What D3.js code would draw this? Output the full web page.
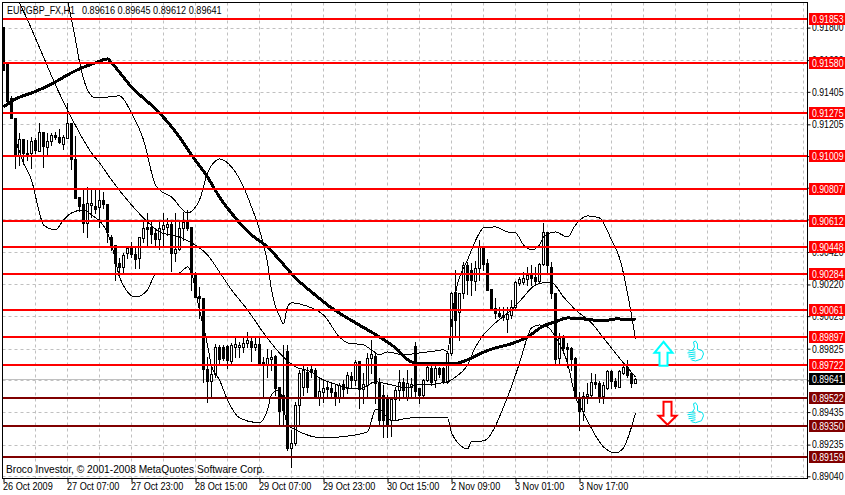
<!DOCTYPE html>
<html>
<head>
<meta charset="utf-8">
<script src="https://cdn.jsdelivr.net/npm/d3@7"></script>
<style>
  body { margin: 0; background: #fff; overflow: hidden; }
  text { font-family: "Liberation Sans", Arial, sans-serif; font-size: 10.5px; fill: #000; }
</style>
</head>
<body>
<script>
const wSvg = 845;
const hSvg = 495;

// prices are in 1/100000 units, one entry per hourly bar
const opens = [91804,91583,91367,91244,91017,91115,91029,91029,91109,91041,91158,91066,91103,91140,91127,91084,91121,91214,90992,90758,90715,90599,90709,90703,90697,90740,90715,90512,90463,90353,90328,90414,90445,90408,90383,90506,90574,90574,90537,90500,90562,90574,90592,90414,90439,90568,90611,90574,90279,90150,90137,89701,89627,89670,89836,89836,89842,89750,89836,89836,89836,89861,89873,89836,89854,89744,89731,89762,89781,89590,89541,89811,89215,89246,89479,89590,89682,89701,89695,89528,89559,89590,89584,89559,89528,89608,89584,89658,89633,89750,89578,89602,89768,89781,89621,89541,89528,89387,89516,89572,89621,89528,89590,89842,89584,89541,89633,89707,89633,89707,89707,89621,89799,90174,90051,90168,90340,90310,90242,90322,90451,90353,90193,90076,90045,90033,90008,90033,90082,90230,90236,90254,90279,90266,90242,90346,90543,90328,90168,89768,89897,89836,89830,89768,89522,89442,89535,89541,89621,89615,89535,89584,89688,89627,89590,89676,89713,89676,89616];
const highs = [91804,91583,91380,91244,91152,91115,91109,91127,91121,91214,91158,91152,91152,91158,91177,91140,91337,91214,91134,90758,90802,90820,90814,90802,90802,90789,90715,90525,90463,90383,90414,90451,90482,90445,90512,90617,90660,90605,90568,90605,90660,90629,90611,90660,90617,90666,90679,90574,90297,90205,90137,89774,89725,89854,89848,89848,89848,89861,89891,89867,89891,89928,89891,89891,89897,89774,89824,89818,89787,89590,89848,89848,89326,89498,89695,89725,89713,89719,89707,89645,89633,89627,89621,89602,89615,89633,89682,89682,89756,89750,89676,89799,89879,89799,89645,89602,89541,89522,89590,89695,89645,89695,89645,89867,89584,89639,89719,89719,89719,89713,89713,89811,90174,90310,90168,90359,90359,90353,90365,90494,90451,90377,90193,90137,90082,90082,90082,90125,90242,90266,90297,90328,90340,90328,90353,90599,90543,90359,90168,89922,89910,89861,89836,89774,89559,89559,89615,89676,89670,89627,89621,89695,89695,89645,89695,89725,89756,89682,89645];
const lows = [91540,91349,91244,90937,90955,90961,90986,90937,91029,91041,90943,91017,91078,91115,91091,91054,91121,90931,90752,90672,90543,90512,90635,90660,90574,90691,90482,90433,90248,90297,90297,90383,90390,90322,90322,90482,90451,90476,90463,90439,90463,90525,90303,90365,90433,90494,90556,90187,90143,90014,89621,89498,89528,89651,89737,89756,89707,89737,89774,89774,89805,89836,89750,89818,89725,89528,89651,89695,89541,89356,89356,89203,89098,89233,89356,89541,89559,89651,89528,89479,89498,89522,89528,89479,89498,89528,89553,89584,89602,89461,89492,89528,89676,89492,89356,89282,89282,89289,89387,89510,89522,89510,89528,89528,89492,89528,89627,89602,89590,89651,89615,89615,89787,89910,89879,90137,90162,90156,90187,90248,90310,90187,90064,90014,90020,90002,89928,90014,90076,90217,90223,90217,90217,90223,90236,90340,90291,90137,89731,89737,89799,89713,89695,89522,89326,89387,89492,89528,89584,89498,89492,89578,89584,89584,89590,89670,89651,89590,89612];
const closes = [91540,91349,91244,91017,91115,91029,91023,91103,91048,91158,91072,91103,91140,91127,91097,91127,91214,90992,90752,90703,90599,90722,90722,90685,90740,90715,90543,90463,90353,90328,90402,90445,90408,90377,90512,90568,90562,90531,90500,90568,90586,90592,90414,90439,90568,90605,90568,90297,90143,90137,89701,89627,89670,89836,89762,89768,89756,89848,89854,89848,89861,89879,89836,89854,89737,89737,89768,89774,89584,89442,89449,89215,89246,89479,89676,89695,89590,89682,89528,89565,89584,89578,89559,89528,89602,89578,89664,89633,89744,89578,89608,89768,89793,89615,89387,89387,89350,89516,89572,89621,89572,89615,89608,89565,89541,89633,89713,89621,89707,89670,89627,89799,90168,90002,90168,90340,90248,90248,90322,90451,90346,90187,90070,90045,90027,90020,90039,90082,90236,90254,90260,90279,90260,90242,90346,90543,90340,90168,89762,89891,89830,89824,89762,89522,89442,89535,89547,89621,89608,89528,89602,89688,89627,89596,89688,89713,89664,89615,89641];

const upperBars = [16,18,19,21,23,26,29,32,35,38,39,42,46,49,51,53,54,57,60,62,64,66,67,68,69,70,71,72,74,77,80,84,86,90,92,94,96,100,104,108,110,111,112,113,116,119,120,123,126,128,130,132,134,135,138,141,143,146,149,152,154,157,158];
const upperValues = [91970,91724,91589,91417,91367,91373,91380,91275,91109,90832,90802,90758,90660,90740,90906,90980,90992,90943,90820,90697,90556,90353,90187,90082,90027,89977,90082,90107,90100,90076,90033,89897,89861,89848,89818,89787,89805,89787,89799,89811,89818,89805,89984,90168,90371,90537,90568,90574,90543,90537,90463,90433,90463,90512,90543,90512,90586,90642,90629,90494,90383,90033,89885];
const middleBars = [4,6,10,13,16,19,22,24,27,32,36,39,44,47,51,54,57,61,65,69,73,77,79,82,86,89,93,97,101,103,105,111,113,116,118,120,123,127,130,132,135,137,140,143,147,150,155,158];
const middleValues = [91952,91847,91619,91447,91294,91152,91029,90968,90863,90709,90605,90543,90512,90476,90402,90297,90187,90064,89922,89799,89713,89682,89645,89615,89584,89578,89621,89602,89584,89602,89602,89621,89651,89725,89836,89910,89984,90064,90143,90199,90230,90230,90143,90064,89984,89891,89737,89651];
const lowerBars = [3,5,7,9,10,13,15,17,20,22,26,28,29,33,36,38,44,46,47,49,51,52,54,56,59,64,66,67,69,71,73,80,84,91,93,94,97,102,111,112,116,117,120,126,129,131,132,134,136,138,141,143,145,150,153,155,157,158];
const lowerValues = [91109,90968,90863,90660,90586,90556,90617,90660,90679,90648,90537,90371,90266,90143,90187,90279,90291,90328,90291,90064,89848,89719,89633,89510,89399,89369,89449,89541,89572,89356,89326,89276,89282,89313,89449,89449,89381,89399,89399,89307,89209,89252,89258,89528,89737,89897,89953,89971,89959,89897,89737,89528,89430,89221,89184,89215,89344,89430];
const maBars = [0,3,7,10,13,16,19,23,26,27,32,39,44,47,51,54,58,62,66,69,73,77,82,88,94,98,102,106,112,116,119,123,126,131,135,138,141,145,150,153,158];
const maValues = [91312,91361,91398,91429,91466,91509,91546,91583,91607,91583,91435,91275,91127,91017,90881,90758,90629,90525,90451,90371,90260,90174,90076,89984,89897,89830,89744,89731,89731,89756,89793,89830,89848,89897,89965,89990,90014,90008,89996,90008,90002];

const levels = [91853,91580,91275,91009,90807,90612,90448,90284,90061,89897,89722,89522,89350,89159];
const lastPrice = 89641;

const priceTicks = [91800,91600,91405,91205,91010,90815,90620,90420,90220,90025,89825,89630,89435,89235,89040];
const timeTickBars = [0,16,32,48,64,80,96,112,128,144];
const timeLabels = ["26 Oct 2009","27 Oct 07:00","27 Oct 23:00","28 Oct 15:00","29 Oct 07:00","29 Oct 23:00","30 Oct 15:00","2 Nov 09:00","3 Nov 01:00","3 Nov 17:00"];

const arrowBars = [165, 166];
const arrowPrices = [89800, 89412];
const thumbBars = [173, 173];
const thumbPrices = [89811, 89431];

const fmt = p => (p / 100000).toFixed(5);

// the font is wider than the original one, squeeze it to the same width
function squeeze(selection, k) {
  selection.each(function() {
    d3.select(this)
      .attr("textLength", this.getComputedTextLength() * k)
      .attr("lengthAdjust", "spacingAndGlyphs");
  });
}

const xLeft = 2.5, xRight = 807.5, yTop = 2.5, yBottom = 478.5;
const xScale = d3.scaleLinear([0, 201], [3.5, 807.5]);
const yScale = d3.scaleLinear([89040, 91800], [476.3, 27.6]);

let svg = d3.select("body")
  .append("svg")
  .attr("width", wSvg)
  .attr("height", hSvg)
  .style("display", "block");

svg.append("clipPath").attr("id", "plot")
  .append("rect")
  .attr("x", xLeft).attr("y", yTop)
  .attr("width", xRight - xLeft).attr("height", yBottom - yTop);

let plot = svg.append("g").attr("clip-path", "url(#plot)");

// dashed grid
let gridX = d3.range(8, 201, 8);
plot.selectAll(".gridx")
  .data(gridX)
  .enter()
  .append("line")
  .attr("x1", d => xScale(d)).attr("x2", d => xScale(d))
  .attr("y1", yTop).attr("y2", yBottom)
  .attr("stroke", "#c0c0c0")
  .attr("stroke-dasharray", "3,3");

plot.selectAll(".gridy")
  .data(priceTicks)
  .enter()
  .append("line")
  .attr("x1", xLeft).attr("x2", xRight)
  .attr("y1", d => Math.round(yScale(d)) + .5).attr("y2", d => Math.round(yScale(d)) + .5)
  .attr("stroke", "#c0c0c0")
  .attr("stroke-dasharray", "3,3");

plot.append("line")
  .attr("x1", xLeft).attr("x2", xRight)
  .attr("y1", Math.round(yScale(lastPrice)) + .5).attr("y2", Math.round(yScale(lastPrice)) + .5)
  .attr("stroke", "#c0c0c0");

// candles
let candles = plot.selectAll(".candle")
  .data(d3.range(opens.length))
  .enter()
  .append("g")
  .attr("class", "candle");

candles.append("line")
  .attr("x1", i => xScale(i)).attr("x2", i => xScale(i))
  .attr("y1", i => Math.round(yScale(highs[i])))
  .attr("y2", i => Math.round(yScale(lows[i])) + 1)
  .attr("stroke", "#000");

candles.append("rect")
  .attr("x", i => xScale(i) - 1)
  .attr("width", 2)
  .attr("y", i => Math.round(yScale(Math.max(opens[i], closes[i]))) + .5)
  .attr("height", i => Math.round(yScale(Math.min(opens[i], closes[i]))) - Math.round(yScale(Math.max(opens[i], closes[i]))))
  .attr("fill", i => closes[i] > opens[i] ? "#fff" : "#000")
  .attr("stroke", "#000");

// bollinger bands, moving average
function drawLine(bars, values, width) {
  let line = d3.line()
    .x(d => xScale(d))
    .y((d, i) => yScale(values[i]))
    .curve(d3.curveMonotoneX);
  plot.append("path")
    .attr("d", line(bars))
    .attr("fill", "none")
    .attr("stroke", "#000")
    .attr("stroke-width", width)
    .attr("shape-rendering", "crispEdges");
}
drawLine(upperBars, upperValues, 1);
drawLine(middleBars, middleValues, 1);
drawLine(lowerBars, lowerValues, 1);
drawLine(maBars, maValues, 3);

// horizontal levels
const levelColor = d => d > lastPrice ? "#ff0000" : "#800000";
plot.selectAll(".level")
  .data(levels)
  .enter()
  .append("line")
  .attr("x1", xLeft).attr("x2", xRight)
  .attr("y1", d => Math.round(yScale(d))).attr("y2", d => Math.round(yScale(d)))
  .attr("stroke", levelColor)
  .attr("stroke-width", 2);

// border and axes
svg.append("rect")
  .attr("x", xLeft).attr("y", yTop)
  .attr("width", xRight - xLeft).attr("height", yBottom - yTop)
  .attr("fill", "none")
  .attr("stroke", "#000");

let xAxis = svg.append("g")
  .attr("transform", `translate(0, ${yBottom})`)
  .call(d3.axisBottom(xScale)
    .tickValues(timeTickBars)
    .tickSize(4)
    .tickFormat((d, i) => timeLabels[i]));
xAxis.select(".domain").remove();
xAxis.selectAll("text")
  .attr("text-anchor", "start")
  .attr("x", -1)
  .attr("y", 4)
  .attr("dy", "0.71em")
  .call(squeeze, .87);

let yAxis = svg.append("g")
  .attr("transform", `translate(${xRight}, 0)`)
  .call(d3.axisRight(yScale)
    .tickValues(priceTicks)
    .tickSize(3)
    .tickFormat(fmt));
yAxis.select(".domain").remove();
yAxis.selectAll("text")
  .attr("x", 4.5)
  .call(squeeze, .83);

// price tags on the right
let tags = svg.selectAll(".tag")
  .data(levels.concat([lastPrice]))
  .enter()
  .append("g")
  .attr("transform", d => `translate(809, ${Math.round(yScale(d))})`);

tags.append("rect")
  .attr("y", -6)
  .attr("width", 36)
  .attr("height", 12)
  .attr("fill", d => d === lastPrice ? "#000" : levelColor(d));

tags.append("text")
  .attr("x", 3)
  .attr("y", 4)
  .style("fill", "#fff")
  .text(fmt)
  .call(squeeze, .83);

// signal arrows and thumbs
function arrowPath(up) {
  return up
    ? "M0,-11 L9,0 L4,0 L4,13 L-4,13 L-4,0 L-9,0 Z"
    : "M0,9 L9,0 L4,0 L4,-14 L-4,-14 L-4,0 L-9,0 Z";
}
svg.selectAll(".arrow")
  .data(arrowBars)
  .enter()
  .append("path")
  .attr("transform", (d, i) => `translate(${xScale(d)}, ${yScale(arrowPrices[i])})`)
  .attr("d", (d, i) => arrowPath(i === 0))
  .attr("fill", "#fff")
  .attr("stroke", (d, i) => i === 0 ? "#00ffff" : "#ff0000")
  .attr("stroke-width", 2);

let thumbs = svg.selectAll(".thumb")
  .data(thumbBars)
  .enter()
  .append("g")
  .attr("transform", (d, i) => `translate(${xScale(d) - 8}, ${yScale(thumbPrices[i]) - 10})`)
  .attr("fill", "none")
  .attr("stroke", "#00e5ee")
  .attr("stroke-width", 1);
thumbs.append("path").attr("d", "M5,9 L7,6 L6,1 L8,0 L10,3 L10,8 L15,10 L16,13 L14,18 L8,20 L4,19");
thumbs.append("path").attr("d", "M1,10 L7,9 M0,12 L8,11 M1,14 L8,13 M1,16 L8,15 M3,18 L8,17");

// text in the corners
svg.append("text").attr("x", 7).attr("y", 14).text("EURGBP_FX,H1").call(squeeze, .85);
svg.append("text").attr("x", 82).attr("y", 14)
  .text([opens[158], highs[158], lows[158], closes[158]].map(fmt).join(" "))
  .call(squeeze, .87);
svg.append("text").attr("x", 6).attr("y", 473)
  .text("Broco Investor, © 2001-2008 MetaQuotes Software Corp.")
  .call(squeeze, .97);
</script>
</body>
</html>
